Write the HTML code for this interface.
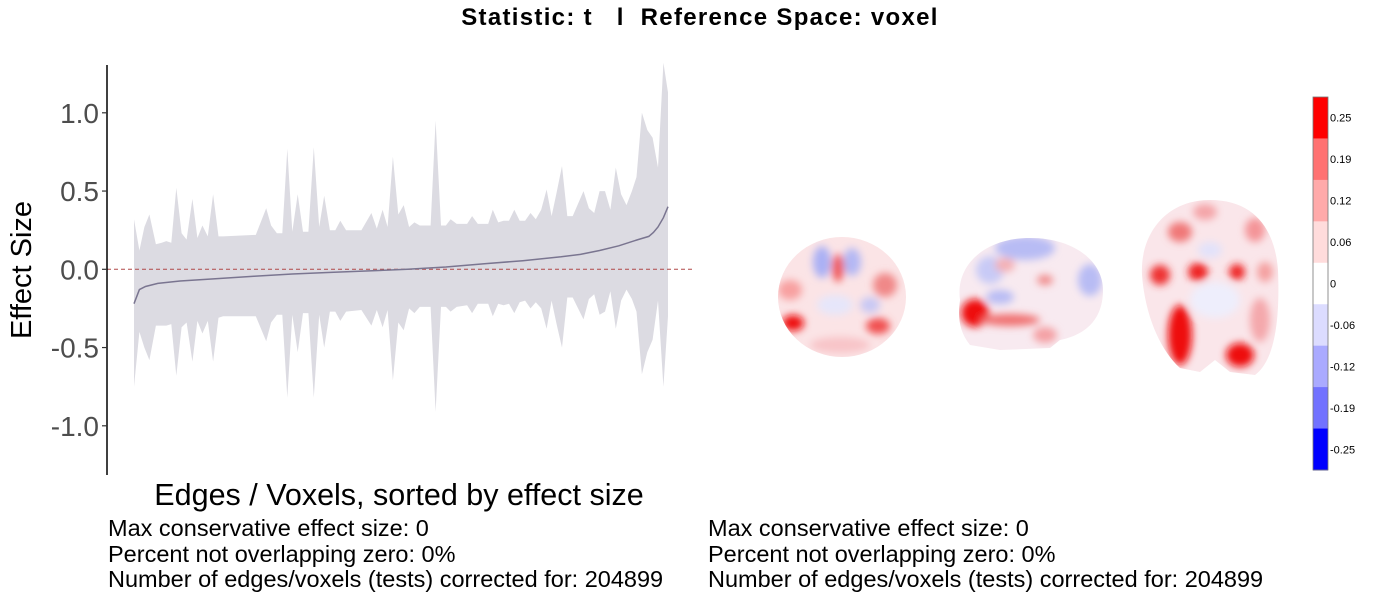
<!DOCTYPE html>
<html><head><meta charset="utf-8">
<style>
body{margin:0;background:#fff;width:1400px;height:600px;overflow:hidden;font-family:"Liberation Sans",sans-serif;}
svg{position:absolute;left:0;top:0}
</style></head>
<body>
<svg id="chart" width="1400" height="600" xmlns="http://www.w3.org/2000/svg">
<defs>
<filter id="bl" x="-50%" y="-50%" width="200%" height="200%"><feGaussianBlur stdDeviation="4"/></filter>
<clipPath id="cor"><ellipse cx="842" cy="297" rx="64" ry="60"/></clipPath>
<clipPath id="sag"><path d="M960,300 C955,265 985,238 1030,238 C1075,238 1103,262 1103,290 C1103,320 1085,335 1060,340 L1050,348 L1000,350 L970,345 C958,330 958,315 960,300Z"/></clipPath>
<clipPath id="axi"><path d="M1142,275 C1140,235 1165,200 1210,200 C1255,200 1275,230 1278,270 C1280,320 1275,360 1255,375 L1230,372 L1215,360 L1200,372 L1180,368 C1160,350 1145,315 1142,275Z"/></clipPath>
</defs>
<text x="700" y="25" text-anchor="middle" font-size="24" font-weight="bold" letter-spacing="1.3" style="white-space:pre">Statistic: t   l  Reference Space: voxel</text>
<g id="plot"></g>
<g clip-path="url(#cor)">
<rect x="770" y="230" width="150" height="140" fill="#fbe4e6"/>
<g filter="url(#bl)">
<ellipse cx="822" cy="262" rx="9" ry="16" fill="#aab0f4"/><ellipse cx="852" cy="262" rx="9" ry="14" fill="#b4b8f4"/>
<ellipse cx="838" cy="268" rx="6" ry="14" fill="#f05a5a"/><ellipse cx="790" cy="290" rx="12" ry="10" fill="#f8a0a0"/>
<ellipse cx="885" cy="285" rx="12" ry="12" fill="#f08888"/><ellipse cx="793" cy="323" rx="11" ry="8" fill="#ee1010"/>
<ellipse cx="878" cy="326" rx="12" ry="8" fill="#f05050"/><ellipse cx="835" cy="305" rx="18" ry="10" fill="#e6e6fa"/>
<ellipse cx="870" cy="305" rx="10" ry="8" fill="#c8c8f4"/><ellipse cx="840" cy="345" rx="30" ry="8" fill="#f8c4c8"/>
</g></g>
<g clip-path="url(#sag)">
<rect x="950" y="230" width="160" height="130" fill="#f8eaf0"/>
<g filter="url(#bl)">
<ellipse cx="1025" cy="248" rx="30" ry="12" fill="#b8bcf4"/><ellipse cx="990" cy="270" rx="14" ry="14" fill="#c8caf6"/>
<ellipse cx="1090" cy="280" rx="12" ry="16" fill="#b8bcf4"/><ellipse cx="1005" cy="265" rx="10" ry="7" fill="#f4b0b4"/>
<ellipse cx="975" cy="313" rx="14" ry="14" fill="#ee1010"/><ellipse cx="1010" cy="320" rx="30" ry="6" fill="#f07070"/>
<ellipse cx="1000" cy="297" rx="14" ry="7" fill="#b8bcf4"/><ellipse cx="1045" cy="280" rx="8" ry="5" fill="#f08888"/>
<ellipse cx="1045" cy="335" rx="12" ry="8" fill="#f4a0a4"/>
</g></g>
<g clip-path="url(#axi)">
<rect x="1135" y="195" width="150" height="185" fill="#fae6ea"/>
<g filter="url(#bl)">
<ellipse cx="1205" cy="212" rx="12" ry="8" fill="#f4a4a8"/><ellipse cx="1180" cy="232" rx="12" ry="10" fill="#f07878"/>
<ellipse cx="1255" cy="230" rx="10" ry="12" fill="#f49498"/><ellipse cx="1160" cy="275" rx="10" ry="10" fill="#ee3030"/>
<ellipse cx="1198" cy="272" rx="10" ry="9" fill="#ee2020"/><ellipse cx="1237" cy="272" rx="8" ry="8" fill="#ee2020"/>
<ellipse cx="1265" cy="272" rx="8" ry="10" fill="#f4a0a0"/><ellipse cx="1215" cy="300" rx="25" ry="18" fill="#eeeefc"/>
<ellipse cx="1180" cy="335" rx="12" ry="30" fill="#ee0a0a"/><ellipse cx="1240" cy="355" rx="14" ry="12" fill="#ee0a0a"/>
<ellipse cx="1260" cy="320" rx="10" ry="22" fill="#f4a8ac"/><ellipse cx="1210" cy="250" rx="12" ry="8" fill="#e2e2fa"/>
</g></g>
<g id="cbar"></g>
<g font-size="23.5" fill="#000">
<text x="108" y="536">Max conservative effect size: 0</text>
<text x="108" y="562">Percent not overlapping zero: 0%</text>
<text x="108" y="587">Number of edges/voxels (tests) corrected for: 204899</text>
</g>
<g font-size="23.5" fill="#000">
<text x="708" y="536">Max conservative effect size: 0</text>
<text x="708" y="562">Percent not overlapping zero: 0%</text>
<text x="708" y="587">Number of edges/voxels (tests) corrected for: 204899</text>
</g>
</svg>
<script>
const ranks=[0,14,27,40,57,72,84,97,110,124,137,152,165,178,192,206,220,232,317,344,357,372,386,399,412,426,440,454,468,482,495,510,524,537,552,592,618,632,647,660,674,688,702,716,730,744,772,785,799,812,824,840,867,880,895,922,934,948,962,976,990,1004,1018,1032,1046,1060,1074,1087,1100,1114,1128,1142,1170,1184,1198,1212,1226,1240,1254,1268,1282,1296,1308,1322,1336,1350,1364,1378,1390];
const upper=[0.32,0.12,0.27,0.35,0.16,0.17,0.18,0.17,0.52,0.23,0.19,0.45,0.20,0.28,0.21,0.48,0.21,0.21,0.22,0.39,0.28,0.23,0.23,0.77,0.24,0.48,0.24,0.24,0.78,0.27,0.47,0.25,0.25,0.31,0.25,0.25,0.36,0.26,0.38,0.27,0.72,0.35,0.41,0.27,0.30,0.28,0.28,0.95,0.28,0.28,0.32,0.29,0.29,0.34,0.29,0.29,0.38,0.30,0.31,0.31,0.38,0.31,0.31,0.36,0.32,0.38,0.51,0.34,0.49,0.66,0.34,0.34,0.50,0.39,0.36,0.50,0.50,0.38,0.65,0.48,0.41,0.50,0.59,1.00,0.89,0.84,0.65,1.32,1.13];
const lower=[-0.75,-0.40,-0.50,-0.58,-0.36,-0.36,-0.36,-0.35,-0.68,-0.37,-0.34,-0.59,-0.33,-0.41,-0.33,-0.59,-0.31,-0.30,-0.30,-0.46,-0.34,-0.29,-0.29,-0.82,-0.29,-0.53,-0.28,-0.28,-0.82,-0.29,-0.50,-0.27,-0.27,-0.33,-0.27,-0.26,-0.36,-0.26,-0.37,-0.26,-0.71,-0.34,-0.39,-0.25,-0.28,-0.24,-0.24,-0.91,-0.24,-0.24,-0.27,-0.24,-0.23,-0.28,-0.22,-0.22,-0.30,-0.22,-0.23,-0.22,-0.28,-0.21,-0.20,-0.25,-0.21,-0.25,-0.38,-0.20,-0.35,-0.50,-0.18,-0.18,-0.32,-0.19,-0.16,-0.29,-0.27,-0.14,-0.38,-0.20,-0.13,-0.19,-0.27,-0.67,-0.53,-0.45,-0.20,-0.75,-0.30];
const meanRanks=[0,14,30,62,120,212,312,412,512,612,712,812,912,1012,1112,1162,1212,1262,1312,1340,1352,1364,1378,1390];
const meanVals=[-0.22,-0.13,-0.11,-0.09,-0.075,-0.06,-0.045,-0.03,-0.02,-0.01,0.0,0.015,0.035,0.055,0.08,0.095,0.12,0.15,0.19,0.21,0.235,0.27,0.33,0.40];
const yTicks=[1.0,0.5,0.0,-0.5,-1.0];
const yTickLabels=["1.0","0.5","0.0","-0.5","-1.0"];
const cbarLabels=["0.25","0.19","0.12","0.06","0","-0.06","-0.12","-0.19","-0.25"];
const cbarColors=["#ff0000","#ff7272","#ffaaaa","#ffdcdc","#ffffff","#dcdcff","#aaaaff","#7272ff","#0000ff"];

const NS="http://www.w3.org/2000/svg";
const xs=r=>134+r/1390*(668-134);
const ys=v=>269.3-v*156.5;
function mk(t,a,p){const e=document.createElementNS(NS,t);for(const k in a)e.setAttribute(k,a[k]);p.appendChild(e);return e;}
const plot=document.getElementById('plot');
const n=Math.min(ranks.length,upper.length,lower.length);
let d="";
for(let i=0;i<n;i++)d+=(i?"L":"M")+xs(ranks[i]).toFixed(1)+","+ys(upper[i]).toFixed(1);
for(let i=n-1;i>=0;i--)d+="L"+xs(ranks[i]).toFixed(1)+","+ys(lower[i]).toFixed(1);
const band=mk('path',{d:d+"Z",fill:"#dcdbe2"},plot);


const zl=mk('line',{x1:107,x2:692,y1:ys(0),y2:ys(0),stroke:"#b04848","stroke-width":1,"stroke-dasharray":"4,3"},plot);


let md="";
meanRanks.forEach((r,i)=>md+=(i?"L":"M")+xs(r).toFixed(1)+","+ys(meanVals[i]).toFixed(1));
const ml=mk('path',{d:md,fill:"none",stroke:"#7a7590","stroke-width":1.5},plot);


const ax=mk('line',{x1:107,x2:107,y1:65,y2:475,stroke:"#000","stroke-width":1.5},plot);


yTicks.forEach((v,i)=>{
  const tk=mk('line',{x1:102,x2:107,y1:ys(v),y2:ys(v),stroke:"#333","stroke-width":1.2},plot);
  
  
  const t=mk('text',{x:99,y:ys(v)+10,"text-anchor":"end","font-size":28,fill:"#4d4d4d"},plot);
  t.textContent=yTickLabels[i];
  
  
});
const yt=mk('text',{x:0,y:0,"font-size":29,transform:"translate(31,270) rotate(-90)","text-anchor":"middle"},plot);
yt.textContent="Effect Size";


const xt=mk('text',{x:399,y:505,"font-size":30.5,"text-anchor":"middle"},plot);
xt.textContent="Edges / Voxels, sorted by effect size";


const cb=document.getElementById('cbar');
const cTop=97,bh=(470-97)/cbarColors.length;
cbarColors.forEach((c,i)=>{
  const r=mk('rect',{x:1313,y:cTop+i*bh,width:15,height:bh+0.5,fill:c},cb);
  
  
  const t=mk('text',{x:1330,y:cTop+i*bh+bh/2+4,"font-size":11,fill:"#000"},cb);
  t.textContent=cbarLabels[i];
  
  
});
const fr=mk('rect',{x:1313,y:cTop,width:15,height:470-cTop,fill:"none",stroke:"#777","stroke-width":0.8},cb);


</script>
</body></html>
